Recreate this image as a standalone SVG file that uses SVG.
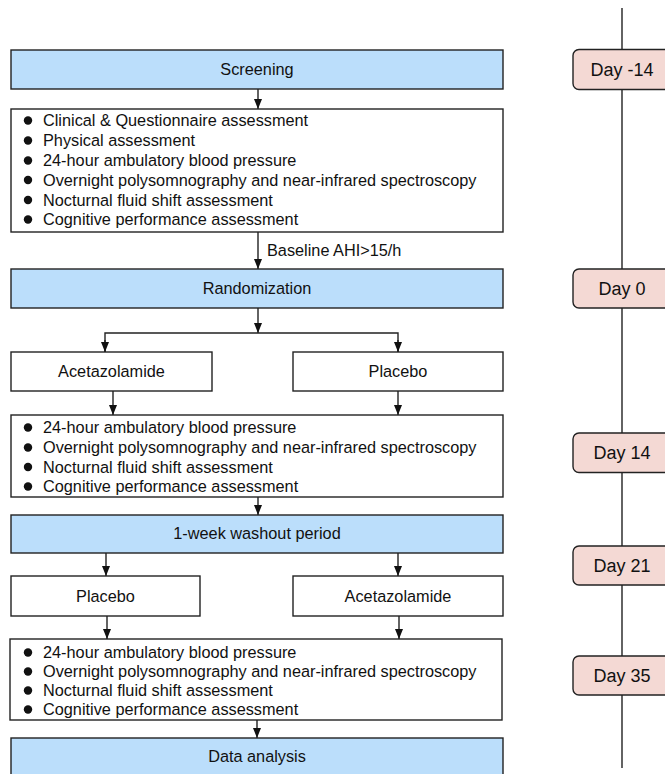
<svg xmlns="http://www.w3.org/2000/svg" width="665" height="774" viewBox="0 0 665 774">
<style>
text{font-family:"Liberation Sans",Arial,sans-serif;font-size:16.3px;fill:#111}
.c{text-anchor:middle}
.blue{fill:#bbdefb;stroke:#222;stroke-width:1.4}
.box{fill:#fff;stroke:#222;stroke-width:1.4}
.day{fill:#f4d9d4;stroke:#222;stroke-width:1.4}
.dt{font-size:18px;text-anchor:middle}
.ln{fill:none;stroke:#222;stroke-width:1.4}
.b{fill:#111}
</style>
<defs>
<marker id="ah" markerUnits="userSpaceOnUse" markerWidth="10" markerHeight="10" viewBox="0 0 10 10" refX="10" refY="5" orient="auto">
<path d="M0,1 L10,5 L0,9 Z" fill="#111"/>
</marker>
</defs>
<rect width="665" height="774" fill="#fff"/>

<g id="timeline">
<line class="ln" x1="622" y1="8" x2="622" y2="768"/>
</g>
<g id="day-14"><rect class="day" x="573" y="49.5" width="100" height="40" rx="6"/><text class="dt" x="622" y="76">Day -14</text></g>
<g id="day0"><rect class="day" x="573" y="269" width="100" height="39" rx="6"/><text class="dt" x="622" y="295">Day 0</text></g>
<g id="day14"><rect class="day" x="573" y="433" width="100" height="39.5" rx="6"/><text class="dt" x="622" y="459">Day 14</text></g>
<g id="day21"><rect class="day" x="573" y="546" width="100" height="39" rx="6"/><text class="dt" x="622" y="572">Day 21</text></g>
<g id="day35"><rect class="day" x="573" y="656" width="100" height="39" rx="6"/><text class="dt" x="622" y="682">Day 35</text></g>

<g id="screening"><rect class="blue" x="11" y="50" width="492" height="39"/><text class="c" x="257" y="75">Screening</text></g>

<g id="list1">
<rect class="box" x="11" y="109" width="492" height="123"/>
<circle class="b" cx="28" cy="120.5" r="4.2"/><text x="43" y="126">Clinical &amp; Questionnaire assessment</text>
<circle class="b" cx="28" cy="140.5" r="4.2"/><text x="43" y="146">Physical assessment</text>
<circle class="b" cx="28" cy="160.5" r="4.2"/><text x="43" y="166">24-hour ambulatory blood pressure</text>
<circle class="b" cx="28" cy="180" r="4.2"/><text x="43" y="185.5">Overnight polysomnography and near-infrared spectroscopy</text>
<circle class="b" cx="28" cy="200" r="4.2"/><text x="43" y="205.5">Nocturnal fluid shift assessment</text>
<circle class="b" cx="28" cy="219.5" r="4.2"/><text x="43" y="225">Cognitive performance assessment</text>
</g>

<g id="randomization"><rect class="blue" x="11" y="269" width="492" height="39"/><text class="c" x="257" y="294">Randomization</text></g>

<g id="aceta1"><rect class="box" x="11" y="352" width="201" height="39"/><text class="c" x="111.5" y="377">Acetazolamide</text></g>
<g id="placebo1"><rect class="box" x="293" y="352" width="210" height="39"/><text class="c" x="398" y="377">Placebo</text></g>

<g id="list2">
<rect class="box" x="11" y="415" width="492" height="82"/>
<circle class="b" cx="28" cy="427.5" r="4.2"/><text x="43" y="433">24-hour ambulatory blood pressure</text>
<circle class="b" cx="28" cy="447.5" r="4.2"/><text x="43" y="453">Overnight polysomnography and near-infrared spectroscopy</text>
<circle class="b" cx="28" cy="467" r="4.2"/><text x="43" y="472.5">Nocturnal fluid shift assessment</text>
<circle class="b" cx="28" cy="486.5" r="4.2"/><text x="43" y="492">Cognitive performance assessment</text>
</g>

<g id="washout"><rect class="blue" x="11" y="515" width="492" height="38"/><text class="c" x="257" y="539">1-week washout period</text></g>

<g id="placebo2"><rect class="box" x="11" y="576" width="189" height="40"/><text class="c" x="105.5" y="601.5">Placebo</text></g>
<g id="aceta2"><rect class="box" x="293" y="576" width="210" height="40"/><text class="c" x="398" y="601.5">Acetazolamide</text></g>

<g id="list3">
<rect class="box" x="10" y="639" width="492" height="81"/>
<circle class="b" cx="28" cy="652.5" r="4.2"/><text x="43" y="658">24-hour ambulatory blood pressure</text>
<circle class="b" cx="28" cy="671.5" r="4.2"/><text x="43" y="677">Overnight polysomnography and near-infrared spectroscopy</text>
<circle class="b" cx="28" cy="690.5" r="4.2"/><text x="43" y="696">Nocturnal fluid shift assessment</text>
<circle class="b" cx="28" cy="709.5" r="4.2"/><text x="43" y="715">Cognitive performance assessment</text>
</g>

<g id="analysis"><rect class="blue" x="11" y="738" width="492" height="40"/><text class="c" x="257" y="762">Data analysis</text></g>

<g id="connectors">
<line class="ln" x1="258" y1="89" x2="258" y2="109" marker-end="url(#ah)"/>
<line class="ln" x1="258" y1="232" x2="258" y2="269" marker-end="url(#ah)"/>
<text x="267" y="256">Baseline AHI&gt;15/h</text>
<line class="ln" x1="258" y1="308" x2="258" y2="333" marker-end="url(#ah)"/>
<polyline class="ln" points="105,352 105,333 398,333 398,352"/>
<line class="ln" x1="105" y1="340" x2="105" y2="352" marker-end="url(#ah)"/>
<line class="ln" x1="398" y1="340" x2="398" y2="352" marker-end="url(#ah)"/>
<line class="ln" x1="113" y1="391" x2="113" y2="415" marker-end="url(#ah)"/>
<line class="ln" x1="398" y1="391" x2="398" y2="415" marker-end="url(#ah)"/>
<line class="ln" x1="258" y1="497" x2="258" y2="515" marker-end="url(#ah)"/>
<line class="ln" x1="106" y1="553" x2="106" y2="576" marker-end="url(#ah)"/>
<line class="ln" x1="398" y1="553" x2="398" y2="576" marker-end="url(#ah)"/>
<line class="ln" x1="107" y1="616" x2="107" y2="639" marker-end="url(#ah)"/>
<line class="ln" x1="399" y1="616" x2="399" y2="639" marker-end="url(#ah)"/>
<line class="ln" x1="257" y1="720" x2="257" y2="738" marker-end="url(#ah)"/>
</g>
</svg>
